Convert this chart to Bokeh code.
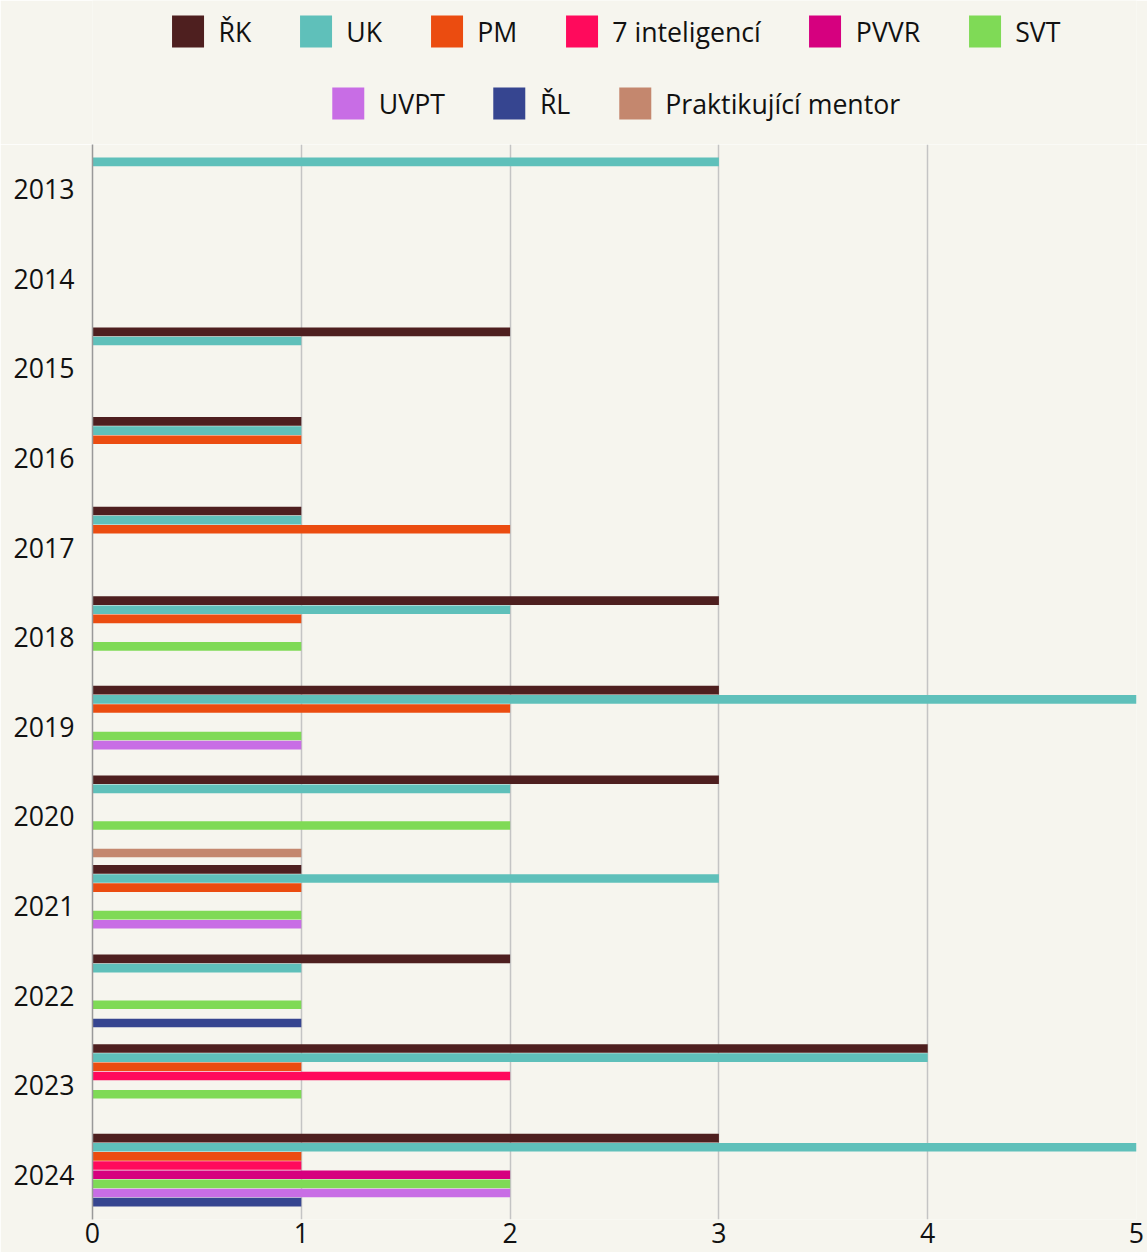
from bokeh.plotting import figure
from bokeh.models import (ColumnDataSource, FactorRange, Range1d, Legend, LegendItem,
                          FixedTicker)
from bokeh.layouts import column
from bokeh.transform import dodge
from bokeh.embed import file_html
from bokeh.resources import INLINE

years = ["2013", "2014", "2015", "2016", "2017", "2018", "2019", "2020", "2021", "2022", "2023", "2024"]
series_names = ["ŘK", "UK", "PM", "7 inteligencí", "PVVR", "SVT", "UVPT", "ŘL", "Praktikující mentor"]
rk = [0, 0, 2, 1, 1, 3, 3, 3, 1, 2, 4, 3]
uk = [3, 0, 1, 1, 1, 2, 5, 2, 3, 1, 4, 5]
pm = [0, 0, 0, 1, 2, 1, 2, 0, 1, 0, 1, 1]
sedm_int = [0, 0, 0, 0, 0, 0, 0, 0, 0, 0, 2, 1]
pvvr = [0, 0, 0, 0, 0, 0, 0, 0, 0, 0, 0, 2]
svt = [0, 0, 0, 0, 0, 1, 1, 2, 1, 1, 1, 2]
uvpt = [0, 0, 0, 0, 0, 0, 1, 0, 1, 0, 0, 2]
rl = [0, 0, 0, 0, 0, 0, 0, 0, 0, 1, 0, 1]
mentor = [0, 0, 0, 0, 0, 0, 0, 1, 0, 0, 0, 0]
colors = ["#4e1f1f", "#5fc0ba", "#eb4c10", "#ff0a5c", "#d6007f", "#7fda56", "#c86de5", "#364590", "#c4876e"]
x_ticks = [0, 1, 2, 3, 4, 5]

all_series = [rk, uk, pm, sedm_int, pvvr, svt, uvpt, rl, mentor]

BG = "#f6f5ee"
FONT = "Open Sans"
FS = "26.7px"

# ---------------- main chart ----------------
p = figure(width=1147, height=1108, y_range=FactorRange(*years[::-1]),
           x_range=Range1d(0, 5), output_backend="svg", toolbar_location=None,
           min_border_left=92, min_border_right=11, min_border_top=0, min_border_bottom=33)
p.y_range.range_padding = 0
p.y_range.factor_padding = 0
p.background_fill_color = BG
p.border_fill_color = BG
p.outline_line_color = None

data = {"year": years}
for i, vals in enumerate(all_series):
    data[f"s{i}"] = vals
src = ColumnDataSource(data)

pitch = 0.1022
for i, name in enumerate(series_names):
    p.hbar(y=dodge("year", (4 - i) * pitch, range=p.y_range), right=f"s{i}", left=0,
           height=0.096, source=src, fill_color=colors[i], line_color=None)

p.xgrid.ticker = FixedTicker(ticks=x_ticks)
p.xgrid.grid_line_color = "#c4c4c4"
p.xgrid.grid_line_width = 1.5
p.ygrid.grid_line_color = None

p.xaxis.ticker = FixedTicker(ticks=x_ticks)
p.xaxis.axis_line_color = None
p.xaxis.major_tick_line_color = None
p.xaxis.minor_tick_line_color = None
p.xaxis.major_tick_out = 0
p.xaxis.major_label_standoff = 3
p.xaxis.major_label_text_font = FONT
p.xaxis.major_label_text_font_size = FS
p.xaxis.major_label_text_color = "#111111"

p.yaxis.axis_line_color = "#999999"
p.yaxis.axis_line_width = 1.5
p.yaxis.major_tick_line_color = None
p.yaxis.minor_tick_line_color = None
p.yaxis.major_tick_out = 0
p.yaxis.major_label_standoff = 18
p.yaxis.major_label_text_font = FONT
p.yaxis.major_label_text_font_size = FS
p.yaxis.major_label_text_color = "#111111"

# ---------------- legend strip ----------------
lf = figure(width=1147, height=144, x_range=Range1d(0, 1), y_range=Range1d(0, 1),
            output_backend="svg", toolbar_location=None,
            min_border_left=62, min_border_right=0, min_border_top=0, min_border_bottom=0)
lf.axis.visible = False
lf.grid.grid_line_color = None
lf.outline_line_color = None
lf.background_fill_color = BG
lf.border_fill_color = BG

dummy = []
for i, name in enumerate(series_names):
    r = lf.hbar(y=[-5], right=[0], left=0, height=0.1, fill_color=colors[i], line_color=None)
    dummy.append(r)


def make_legend(idx, loc, margin):
    items = [LegendItem(label=series_names[i], renderers=[dummy[i]]) for i in idx]
    return Legend(items=items, orientation="horizontal", location=loc,
                  glyph_width=40, glyph_height=40, label_standoff=11, spacing=44,
                  padding=0, margin=margin, border_line_color=None,
                  background_fill_alpha=0, label_text_font=FONT,
                  label_text_font_size=FS, label_text_color="#111111")


lf.add_layout(make_legend([0, 1, 2, 3, 4, 5], "top_center", 11), "center")
lf.add_layout(make_legend([6, 7, 8], "bottom_center", 21), "center")

layout = column(lf, p, spacing=0)
open("out.html", "w").write(file_html(layout, INLINE))
